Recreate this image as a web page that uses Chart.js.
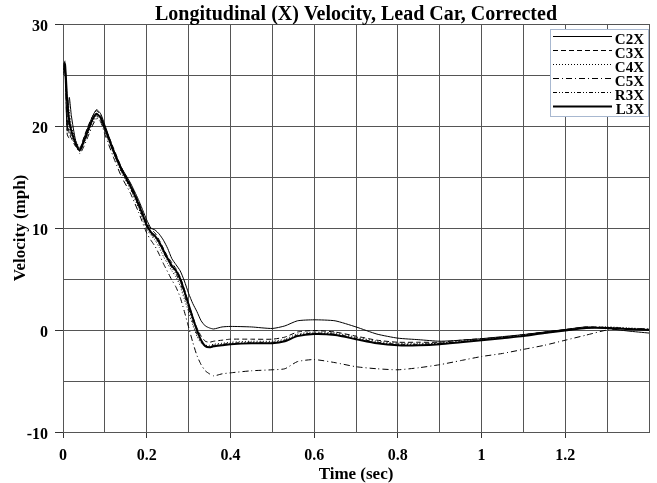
<!DOCTYPE html>
<html>
<head>
<meta charset="utf-8">
<script src="https://cdn.jsdelivr.net/npm/chart.js@4"></script>
<style>
  body { margin: 0; background: #fff; }
  #wrap { width: 657px; height: 483px; }
</style>
</head>
<body>
<div id="wrap"><canvas id="velCanvas"></canvas></div>
<script>
// time axis (sec) shared by all channels
const time = [0.002,0.005,0.01,0.015,0.02,0.03,0.04,0.05,0.06,0.07,0.08,0.09,0.1,
  0.12,0.14,0.16,0.18,0.2,
  0.21,0.22,0.23,0.24,0.25,0.26,0.27,0.28,0.29,0.3,0.31,0.32,0.33,0.34,0.35,0.36,
  0.38,0.4,0.45,0.5,0.53,0.56,
  0.6,0.65,0.7,0.75,0.8,0.85,0.9,0.95,1.0,
  1.05,1.1,1.15,1.2,1.25,1.3,1.35,1.4];

// velocity (mph)
const c2x = [26.2,25.0,19.5,22.8,21.0,18.6,17.7,18.8,19.9,20.9,21.6,21.2,20.1,
  17.8,15.9,14.5,12.8,10.8,
  10.0,9.8,9.4,8.8,8.0,7.0,6.4,5.8,4.8,3.6,2.6,1.8,0.9,0.4,0.2,0.1,
  0.3,0.35,0.3,0.15,0.4,0.9,
  1.0,0.9,0.3,-0.4,-0.8,-0.95,-1.1,-1.0,-0.85,
  -0.65,-0.45,-0.2,0.05,0.3,0.15,-0.1,-0.3];
const c3x = [25.0,26.3,21.0,19.2,18.8,18.0,17.8,18.9,20.0,20.9,21.5,21.0,19.9,
  17.9,15.9,14.4,12.6,10.5,
  9.9,9.5,8.8,8.0,7.2,6.6,6.0,5.2,4.0,2.6,1.3,0.2,-0.6,-1.1,-1.2,-1.1,
  -1.0,-0.9,-0.9,-0.9,-0.7,-0.2,
  -0.05,-0.2,-0.6,-1.0,-1.2,-1.2,-1.2,-1.0,-0.85,
  -0.7,-0.45,-0.2,0.05,0.3,0.25,0.1,0.0];
const c4x = [26.0,25.5,23.0,21.5,20.0,18.6,17.9,18.4,19.3,20.2,20.8,20.5,19.5,
  17.4,15.4,13.9,12.0,9.9,
  9.3,8.8,8.1,7.2,6.5,5.8,5.2,4.3,3.0,1.8,0.5,-0.6,-1.3,-1.5,-1.5,-1.4,
  -1.3,-1.2,-1.1,-1.1,-0.9,-0.4,
  -0.2,-0.3,-0.7,-1.1,-1.3,-1.3,-1.3,-1.1,-0.95,
  -0.75,-0.5,-0.25,0.0,0.25,0.3,0.2,0.1];
const c5x = [25.8,26.4,19.2,18.8,19.4,18.4,17.3,18.0,19.0,20.0,20.7,20.4,19.2,
  17.0,15.0,13.5,11.6,9.5,
  8.8,8.2,7.4,6.5,5.7,4.9,4.2,3.2,1.8,0.3,-1.2,-2.5,-3.4,-4.0,-4.3,-4.5,
  -4.3,-4.2,-4.0,-3.9,-3.8,-3.1,
  -2.9,-3.2,-3.6,-3.8,-3.9,-3.7,-3.4,-3.0,-2.6,
  -2.3,-1.9,-1.5,-1.0,-0.5,0.0,0.15,0.1];
const r3x = [25.2,25.8,22.0,19.8,19.0,18.1,17.5,18.3,19.4,20.4,21.0,20.6,19.6,
  17.5,15.6,14.0,12.2,10.1,
  9.4,9.0,8.4,7.6,6.8,6.1,5.5,4.6,3.4,2.1,0.8,-0.4,-1.2,-1.5,-1.6,-1.5,
  -1.4,-1.3,-1.2,-1.2,-1.0,-0.5,
  -0.3,-0.4,-0.8,-1.2,-1.4,-1.4,-1.3,-1.15,-0.95,
  -0.75,-0.55,-0.3,-0.05,0.2,0.25,0.15,0.05];
const l3x = [25.5,26.0,22.5,20.5,19.5,18.3,17.6,18.5,19.6,20.6,21.2,20.8,19.8,
  17.6,15.7,14.2,12.4,10.3,
  9.6,9.2,8.6,7.8,7.0,6.3,5.8,5.0,3.8,2.5,1.2,0.0,-1.0,-1.6,-1.7,-1.6,
  -1.5,-1.4,-1.3,-1.3,-1.1,-0.6,
  -0.4,-0.5,-0.9,-1.3,-1.5,-1.5,-1.4,-1.2,-1.0,
  -0.8,-0.6,-0.3,-0.05,0.2,0.2,0.1,0.0];

const seriesNames = ['C2X', 'C3X', 'C4X', 'C5X', 'R3X', 'L3X'];
const seriesData = [c2x, c3x, c4x, c5x, r3x, l3x];
const xTickLabels = ['0', '0.2', '0.4', '0.6', '0.8', '1', '1.2'];
const yTickLabels = ['-10', '0', '10', '20', '30'];

const dashes = [[], [5, 3], [1, 2], [6, 3, 1, 3], [4, 2, 1, 2, 1, 2], []];
const widths = [1, 1, 1, 1, 1, 2];
const FONT = 'Liberation Serif, Times New Roman, serif';

function toPoints(arr) {
  return arr.map((v, i) => ({ x: time[i], y: v }));
}

// legend box drawn inside the plot, top right corner
const boxLegend = {
  id: 'boxLegend',
  afterDraw(chart) {
    const ctx = chart.ctx;
    const a = chart.chartArea;
    const left = a.right - 99, top = a.top + 5, w = 99, rowH = 14;
    const h = rowH * seriesNames.length + 4;
    ctx.save();
    ctx.fillStyle = '#fff';
    ctx.fillRect(left, top, w, h);
    ctx.strokeStyle = '#a8b8d0';
    ctx.lineWidth = 1;
    ctx.strokeRect(left + 0.5, top + 0.5, w - 1, h - 1);
    ctx.font = 'bold 15px ' + FONT;
    ctx.fillStyle = '#000';
    ctx.textAlign = 'right';
    ctx.textBaseline = 'middle';
    seriesNames.forEach((name, i) => {
      const y = top + 10 + i * rowH;
      ctx.beginPath();
      ctx.setLineDash(dashes[i]);
      ctx.lineWidth = widths[i];
      ctx.strokeStyle = '#000';
      ctx.moveTo(left + 3, Math.round(y) - 2.5);
      ctx.lineTo(left + 62, Math.round(y) - 2.5);
      ctx.stroke();
      ctx.setLineDash([]);
      ctx.fillText(name, a.right - 5, y + 1);
    });
    ctx.restore();
  }
};

const ctx = document.getElementById('velCanvas').getContext('2d');

new Chart(ctx, {
  type: 'line',
  data: {
    datasets: seriesNames.map((name, i) => ({
      label: name,
      data: toPoints(seriesData[i]),
      borderColor: '#000',
      borderWidth: widths[i],
      borderDash: dashes[i],
      pointRadius: 0,
      tension: 0.2,
      fill: false
    }))
  },
  options: {
    responsive: true,
    maintainAspectRatio: false,
    animation: false,
    layout: { padding: { left: 0, right: 4, top: 0, bottom: 0 } },
    plugins: {
      legend: { display: false },
      tooltip: { enabled: false },
      title: {
        display: true,
        fullSize: false,
        text: 'Longitudinal (X) Velocity, Lead Car, Corrected',
        color: '#000',
        font: { family: FONT, size: 20, weight: 'bold', lineHeight: 0.9 },
        padding: { top: 6, bottom: 0 }
      }
    },
    scales: {
      x: {
        type: 'linear',
        min: 0,
        max: 1.4,
        afterFit(scale) { scale.height = 51; },
        ticks: {
          stepSize: 0.1,
          autoSkip: false,
          maxRotation: 0,
          color: '#000',
          padding: 8,
          font: { family: FONT, size: 16, weight: 'bold' },
          callback(v) {
            const k = Math.round(v * 10);
            return (k % 2 === 0 && k < 14) ? xTickLabels[k / 2] : '';
          }
        },
        grid: {
          color: '#555',
          tickLength: 6,
          tickColor(c) {
            const k = Math.round(c.tick.value * 10);
            return (k % 2 === 0 && k < 14) ? '#333' : 'rgba(0,0,0,0)';
          }
        },
        border: { color: '#555' },
        title: {
          display: true,
          text: 'Time (sec)',
          color: '#000',
          font: { family: FONT, size: 17, weight: 'bold', lineHeight: 1 },
          padding: { top: 0, bottom: 0 }
        }
      },
      y: {
        min: -10,
        max: 30,
        afterFit(scale) { scale.width = 63; },
        ticks: {
          stepSize: 5,
          color: '#000',
          padding: 7,
          labelOffset: 3,
          font: { family: FONT, size: 16, weight: 'bold' },
          callback(v) {
            return (v % 10 === 0) ? yTickLabels[(v + 10) / 10] : '';
          }
        },
        grid: {
          color: '#555',
          tickLength: 8,
          tickColor(c) {
            return (c.tick.value % 10 === 0) ? '#333' : 'rgba(0,0,0,0)';
          }
        },
        border: { color: '#555' },
        title: {
          display: true,
          text: 'Velocity (mph)',
          color: '#000',
          font: { family: FONT, size: 17, weight: 'bold', lineHeight: 1 },
          padding: { top: 12, bottom: 0 }
        }
      }
    }
  },
  plugins: [boxLegend]
});
</script>
</body>
</html>
